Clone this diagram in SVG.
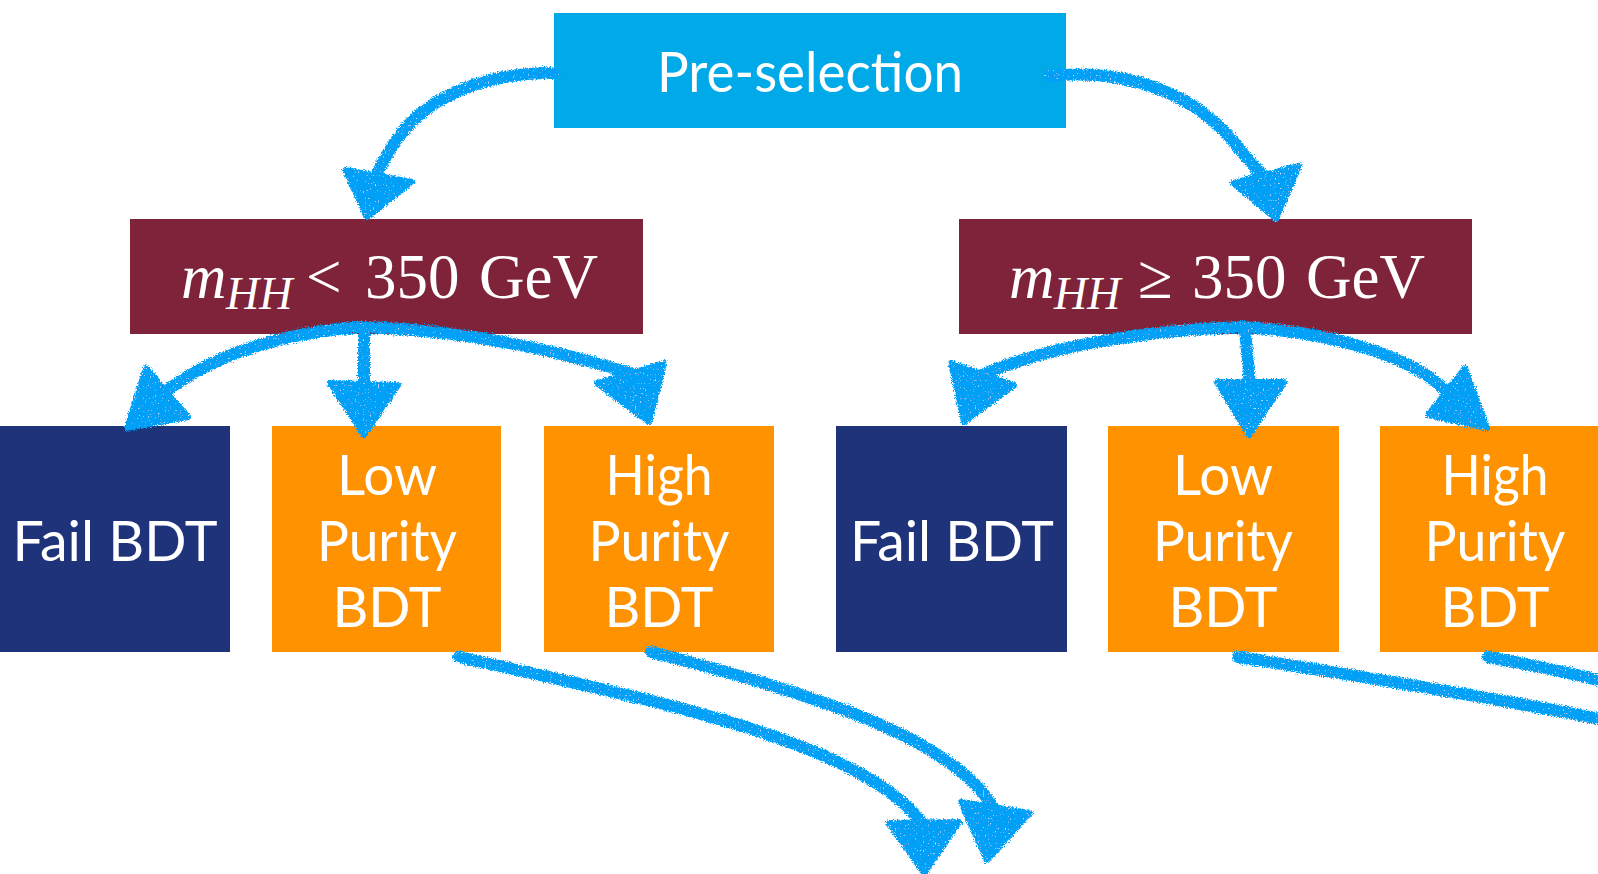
<svg xmlns="http://www.w3.org/2000/svg" width="1598" height="874" viewBox="0 0 1598 874">
<style>
.lbl{font-family:Lato,"Open Sans","DejaVu Sans",sans-serif;fill:#fff;text-anchor:middle;font-size:56px}
.math{font-family:"Liberation Serif","Times New Roman",serif;fill:#fff;font-size:63px}
.it{font-style:italic}
.shaft{fill:none;stroke:#06A0F6;stroke-width:12;stroke-linecap:round;stroke-linejoin:round}
.head{fill:#06A0F6;stroke:#06A0F6;stroke-width:6;stroke-linejoin:round}
</style>
<defs>
<filter id="crayon" filterUnits="userSpaceOnUse" x="0" y="0" width="1598" height="874">
<feTurbulence type="fractalNoise" baseFrequency="0.9" numOctaves="2" seed="4" result="noise"/>
<feDisplacementMap in="SourceGraphic" in2="noise" scale="6" xChannelSelector="R" yChannelSelector="G" result="d"/>
<feTurbulence type="fractalNoise" baseFrequency="0.6" numOctaves="1" seed="9" result="n2"/>
<feColorMatrix in="n2" type="matrix" values="0 0 0 0 1  0 0 0 0 1  0 0 0 0 1  5 0 0 0 -3.3" result="spots"/>
<feComposite in="spots" in2="d" operator="in" result="sp"/>
<feMerge><feMergeNode in="d"/><feMergeNode in="sp"/></feMerge>
</filter>
</defs>
<rect width="1598" height="874" fill="#fff"/>

<g id="preselection">
<rect x="554" y="13" width="512" height="115" fill="#00AAE9"/>
<text class="lbl" x="810" y="92" font-size="58" textLength="306" lengthAdjust="spacingAndGlyphs">Pre-selection</text>
</g>

<g id="mhh-low">
<rect x="130" y="219" width="513" height="115" fill="#7F233A"/>
<text class="math"><tspan class="it" x="181" y="298">m</tspan><tspan class="it" x="226" y="309" font-size="46">HH</tspan><tspan x="306" y="298">&lt;</tspan><tspan x="365" y="298">350</tspan><tspan x="479" y="298">GeV</tspan></text>
</g>

<g id="mhh-high">
<rect x="959" y="219" width="513" height="115" fill="#7F233A"/>
<text class="math"><tspan class="it" x="1009" y="298">m</tspan><tspan class="it" x="1054" y="309" font-size="46">HH</tspan><tspan x="1138" y="298">≥</tspan><tspan x="1192" y="298">350</tspan><tspan x="1306" y="298">GeV</tspan></text>
</g>

<g id="fail-low">
<rect x="0" y="426" width="230" height="226" fill="#1F337A"/>
<text class="lbl" x="115" y="561" textLength="205" lengthAdjust="spacingAndGlyphs">Fail BDT</text>
</g>
<g id="lowpurity-low">
<rect x="272" y="426" width="229" height="226" fill="#FE9200"/>
<text class="lbl" x="387" y="495" textLength="100" lengthAdjust="spacingAndGlyphs">Low</text>
<text class="lbl" x="387" y="561" textLength="140" lengthAdjust="spacingAndGlyphs">Purity</text>
<text class="lbl" x="387" y="627" textLength="109" lengthAdjust="spacingAndGlyphs">BDT</text>
</g>
<g id="highpurity-low">
<rect x="544" y="426" width="230" height="226" fill="#FE9200"/>
<text class="lbl" x="659" y="495" textLength="107" lengthAdjust="spacingAndGlyphs">High</text>
<text class="lbl" x="659" y="561" textLength="141" lengthAdjust="spacingAndGlyphs">Purity</text>
<text class="lbl" x="659" y="627" textLength="109" lengthAdjust="spacingAndGlyphs">BDT</text>
</g>

<g id="fail-high">
<rect x="836" y="426" width="231" height="226" fill="#1F337A"/>
<text class="lbl" x="952" y="561" textLength="204" lengthAdjust="spacingAndGlyphs">Fail BDT</text>
</g>
<g id="lowpurity-high">
<rect x="1108" y="426" width="231" height="226" fill="#FE9200"/>
<text class="lbl" x="1223" y="495" textLength="100" lengthAdjust="spacingAndGlyphs">Low</text>
<text class="lbl" x="1223" y="561" textLength="140" lengthAdjust="spacingAndGlyphs">Purity</text>
<text class="lbl" x="1223" y="627" textLength="109" lengthAdjust="spacingAndGlyphs">BDT</text>
</g>
<g id="highpurity-high">
<rect x="1380" y="426" width="230" height="226" fill="#FE9200"/>
<text class="lbl" x="1495" y="495" textLength="107" lengthAdjust="spacingAndGlyphs">High</text>
<text class="lbl" x="1495" y="561" textLength="141" lengthAdjust="spacingAndGlyphs">Purity</text>
<text class="lbl" x="1495" y="627" textLength="109" lengthAdjust="spacingAndGlyphs">BDT</text>
</g>

<g id="connectors" filter="url(#crayon)">
<path class="shaft" d="M554,73 C490,72 430,95 400,135 C388,152 380,166 376,178"/>
<polygon class="head" points="345,170 412,182 367,217"/>
<path class="shaft" d="M1050,76 C1130,68 1200,95 1240,150 L1262,175"/>
<polygon class="head" points="1233,183 1299,166 1276,219"/>

<path class="shaft" d="M364,327 C290,332 220,350 165,392"/>
<polygon class="head" points="146,368 188,417 127,428"/>
<path class="shaft" d="M364,327 L364,386"/>
<polygon class="head" points="330,383 398,385 364,435"/>
<path class="shaft" d="M364,327 C450,330 540,345 630,373"/>
<polygon class="head" points="597,383 664,363 649,422"/>

<path class="shaft" d="M1242,327 C1150,330 1050,345 982,375"/>
<polygon class="head" points="951,363 1014,385 964,422"/>
<path class="shaft" d="M1245,330 L1250,384"/>
<polygon class="head" points="1217,382 1284,382 1249,435"/>
<path class="shaft" d="M1242,327 C1330,332 1410,355 1446,391"/>
<polygon class="head" points="1465,368 1428,415 1487,428"/>

<path class="shaft" d="M459,657 C650,700 860,740 922,823"/>
<polygon class="head" points="889,823 959,822 924,873"/>
<path class="shaft" d="M651,652 C800,690 950,735 993,807"/>
<polygon class="head" points="961,802 1030,813 987,860"/>

<path class="shaft" d="M1238,657 C1350,675 1480,695 1605,720"/>
<path class="shaft" d="M1488,657 C1530,665 1570,672 1605,682"/>
</g>
</svg>
